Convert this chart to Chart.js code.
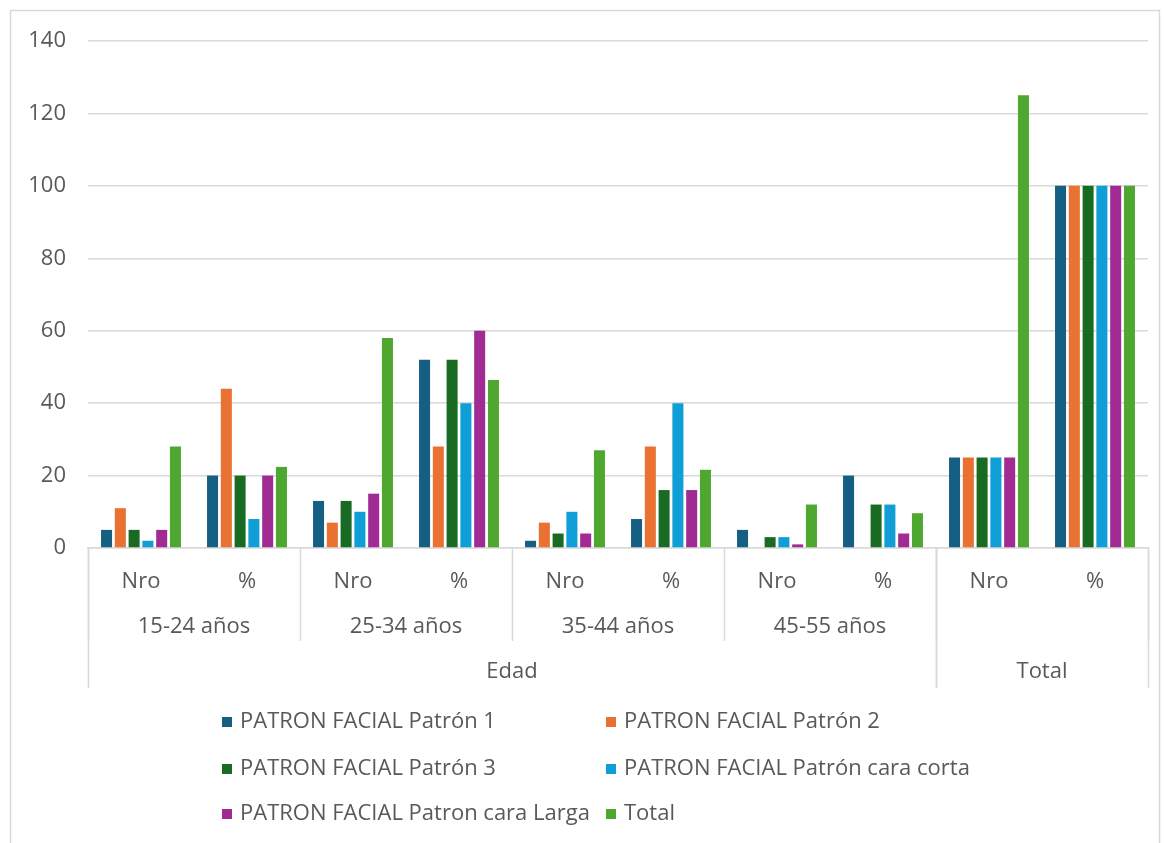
<!DOCTYPE html>
<html>
<head>
<meta charset="utf-8">
<script src="https://cdn.jsdelivr.net/npm/chart.js@4.4.1/dist/chart.umd.min.js"></script>
<style>
  html, body { margin: 0; padding: 0; background: #fff; }
  #wrap { width: 1164px; height: 843px; position: relative; }
</style>
</head>
<body>
<div id="wrap"><canvas id="chart" width="1164" height="843"></canvas></div>
<script>
const categories = ["Nro", "%", "Nro", "%", "Nro", "%", "Nro", "%", "Nro", "%"];
const groupLabels = ["15-24 años", "25-34 años", "35-44 años", "45-55 años", ""];
const topLabels = ["Edad", "Total"];
const topGroupCounts = [4, 1];

const seriesNames = [
  "PATRON FACIAL Patrón 1",
  "PATRON FACIAL Patrón 2",
  "PATRON FACIAL Patrón 3",
  "PATRON FACIAL Patrón cara corta",
  "PATRON FACIAL Patron cara Larga",
  "Total",
];
const patron1 = [5, 20, 13, 52, 2, 8, 5, 20, 25, 100];
const patron2 = [11, 44, 7, 28, 7, 28, 0, 0, 25, 100];
const patron3 = [5, 20, 13, 52, 4, 16, 3, 12, 25, 100];
const caraCorta = [2, 8, 10, 40, 10, 40, 3, 12, 25, 100];
const caraLarga = [5, 20, 15, 60, 4, 16, 1, 4, 25, 100];
const totalRow = [28, 22.4, 58, 46.4, 27, 21.6, 12, 9.6, 125, 100];
const yTicks = [0, 20, 40, 60, 80, 100, 120, 140];

const colors = ["#156082", "#E97132", "#196B24", "#0F9ED5", "#A02B93", "#4EA72E"];
const FONT = "'Open Sans', 'Liberation Sans', sans-serif";
const FONT_SIZE = 22;
const TEXT = "#595959";
const LINE = "#d9d9d9";

const allSeries = [patron1, patron2, patron3, caraCorta, caraLarga, totalRow];

// frame round the whole chart
const framePlugin = {
  id: "frame",
  beforeDraw(chart) {
    const ctx = chart.ctx;
    ctx.save();
    ctx.strokeStyle = LINE;
    ctx.lineWidth = 1.5;
    ctx.strokeRect(10.5, 10.5, 1149, 860);
    ctx.restore();
  },
};

// grouped labels under the x axis + separators + legend
const groupAxisPlugin = {
  id: "groupAxis",
  afterDraw(chart) {
    const ctx = chart.ctx;
    const x = chart.scales.x;
    const bottom = chart.chartArea.bottom;
    const catW = (x.right - x.left) / categories.length;
    const edge = (i) => x.left + i * catW;

    ctx.save();
    ctx.strokeStyle = LINE;
    ctx.lineWidth = 1.5;
    ctx.fillStyle = TEXT;
    ctx.font = FONT_SIZE + "px " + FONT;
    ctx.textAlign = "center";
    ctx.textBaseline = "middle";

    // second level: age groups
    groupLabels.forEach((lbl, g) => {
      const l = edge(g * 2);
      const r = edge(g * 2 + 2);
      if (lbl) ctx.fillText(lbl, (l + r) / 2, bottom + 79);
    });
    for (let g = 0; g <= groupLabels.length; g++) {
      const px = Math.round(edge(g * 2)) + 0.5;
      ctx.beginPath();
      ctx.moveTo(px, bottom);
      ctx.lineTo(px, bottom + 93);
      ctx.stroke();
    }

    // third level
    let start = 0;
    topLabels.forEach((lbl, t) => {
      const end = start + topGroupCounts[t];
      const l = edge(start * 2);
      const r = edge(end * 2);
      ctx.fillText(lbl, (l + r) / 2, bottom + 124);
      [l, r].forEach((p) => {
        const px = Math.round(p) + 0.5;
        ctx.beginPath();
        ctx.moveTo(px, bottom);
        ctx.lineTo(px, bottom + 140);
        ctx.stroke();
      });
      start = end;
    });

    // legend, two columns
    const colX = [222, 606];
    const rowY = [722, 769, 814];
    ctx.textAlign = "left";
    chart.data.datasets.forEach((ds, i) => {
      const cx = colX[i % 2];
      const cy = rowY[Math.floor(i / 2)];
      ctx.fillStyle = ds.backgroundColor;
      ctx.fillRect(cx, cy - 5, 10, 10);
      ctx.fillStyle = TEXT;
      ctx.fillText(ds.label, cx + 18, cy);
    });
    ctx.restore();
  },
};

new Chart(document.getElementById("chart"), {
  type: "bar",
  data: {
    labels: categories,
    datasets: allSeries.map((values, i) => ({
      label: seriesNames[i],
      data: values,
      backgroundColor: colors[i],
      borderWidth: 0,
      categoryPercentage: 0.78,
      barPercentage: 0.8,
    })),
  },
  options: {
    responsive: false,
    animation: false,
    layout: { padding: { left: 10, right: 16, top: 41, bottom: 0 } },
    plugins: {
      legend: { display: false },
      tooltip: { enabled: false },
    },
    scales: {
      y: {
        min: 0,
        max: 140,
        afterBuildTicks(scale) {
          scale.ticks = yTicks.map((v) => ({ value: v }));
        },
        afterFit(scale) {
          scale.width = 78;
        },
        ticks: {
          color: TEXT,
          font: { family: FONT, size: FONT_SIZE },
          padding: 22,
        },
        grid: { color: LINE, lineWidth: 1.5, drawTicks: false },
        border: { display: false },
      },
      x: {
        afterFit(scale) {
          scale.height = 295;
        },
        ticks: {
          color: TEXT,
          font: { family: FONT, size: FONT_SIZE },
          padding: 13,
          maxRotation: 0,
          autoSkip: false,
        },
        grid: { display: false },
        border: { display: true, color: LINE, width: 1.5 },
      },
    },
  },
  plugins: [framePlugin, groupAxisPlugin],
});
</script>
</body>
</html>
